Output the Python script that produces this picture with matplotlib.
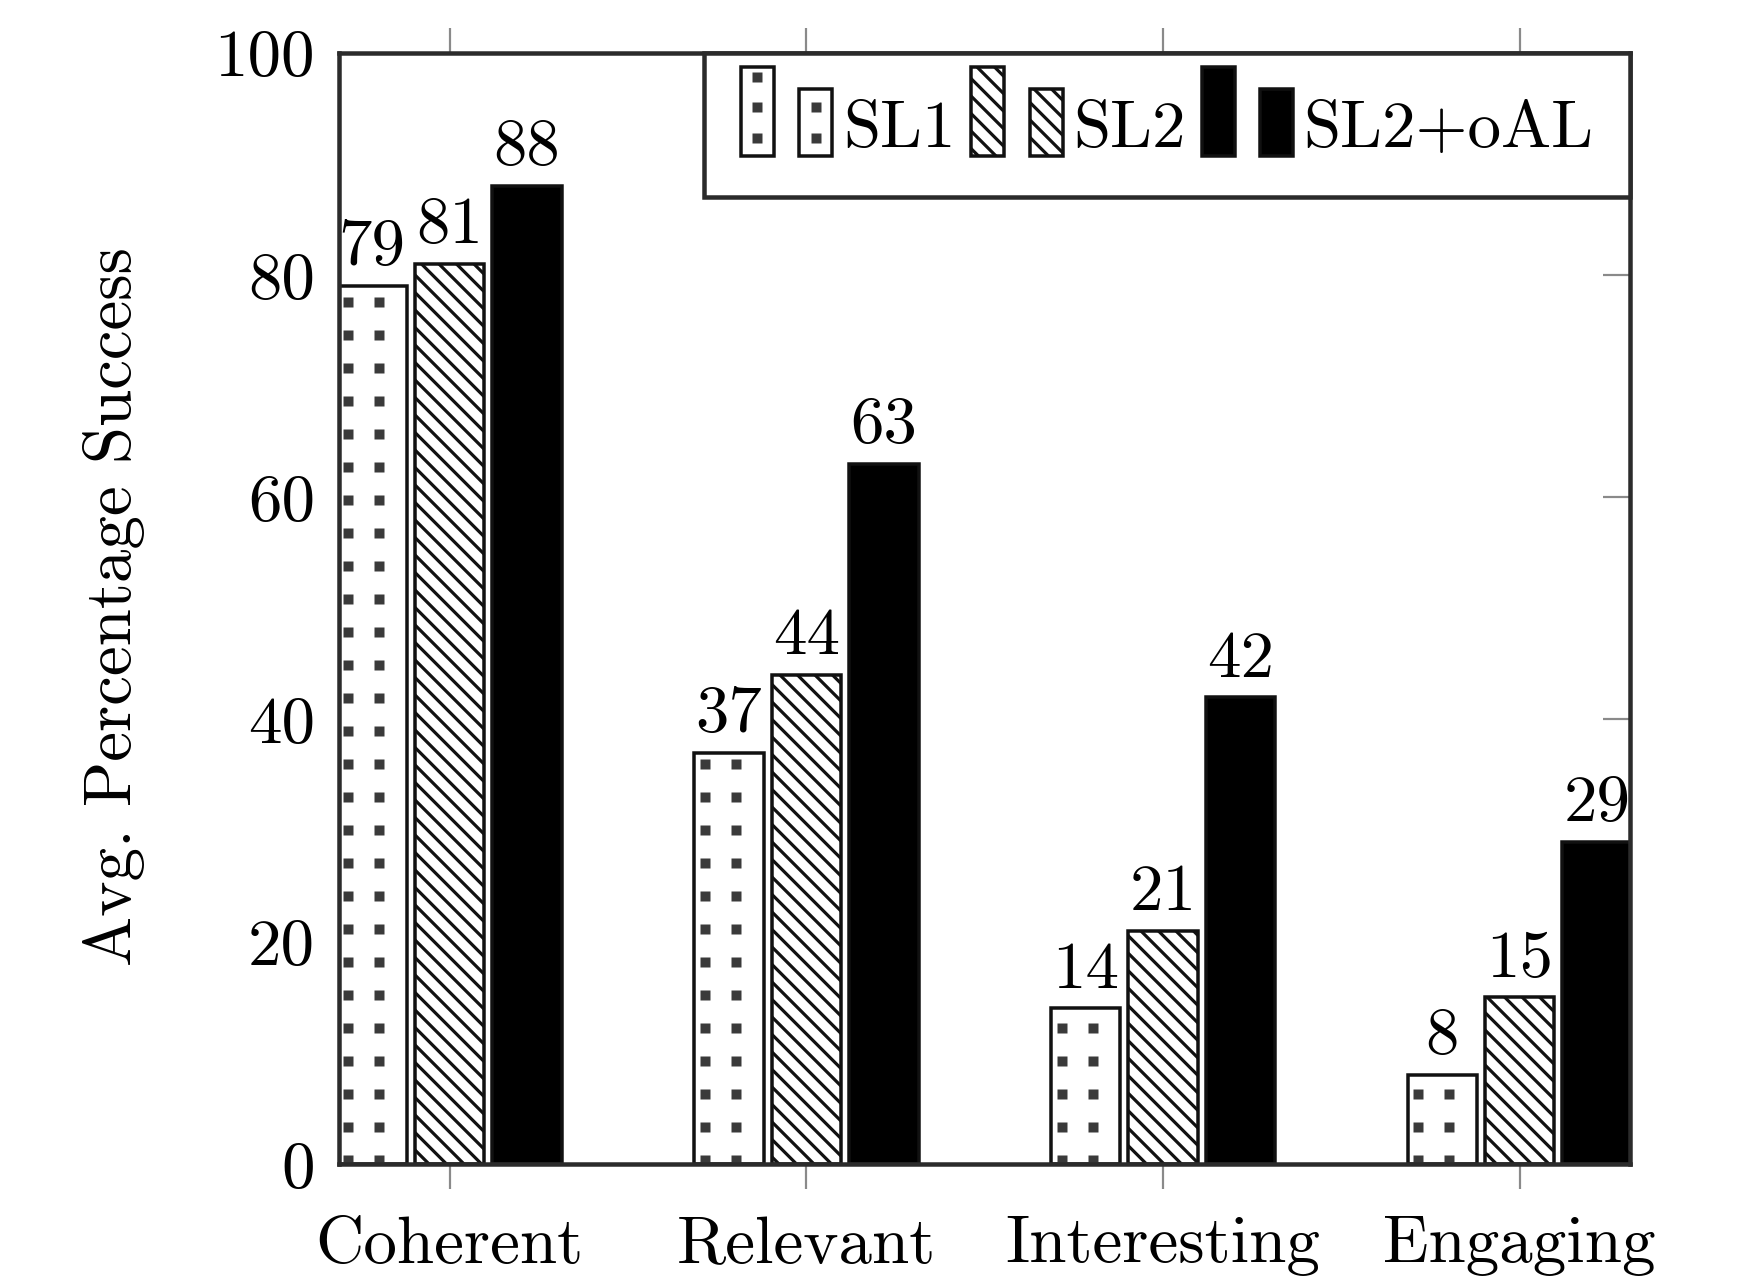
import numpy as np
import matplotlib
matplotlib.use("Agg")
import matplotlib.pyplot as plt
from matplotlib.patches import Rectangle
from matplotlib.lines import Line2D
from matplotlib.legend_handler import HandlerBase

# ---------------- data ----------------
categories = ["Coherent", "Relevant", "Interesting", "Engaging"]
series_names = ["SL1", "SL2", "SL2+oAL"]
sl1 = [79, 37, 14, 8]
sl2 = [81, 44, 21, 15]
sl2_oal = [88, 63, 42, 29]
y_ticks = [0, 20, 40, 60, 80, 100]
y_tick_labels = ["0", "20", "40", "60", "80", "100"]
y_label = "Avg. Percentage Success"

# ---------------- style ----------------
DPI = 210


def px(v):
    """pixels -> points at the output dpi"""
    return v * 72.0 / DPI


FS = px(67)
EDGE = "#111111"
DOT = "#3a3a3a"

plt.rcParams.update({
    "font.family": ["cmr10", "DejaVu Serif"],
    "mathtext.fontset": "cm",
    "axes.formatter.use_mathtext": True,
    "hatch.linewidth": px(3.2),
    "hatch.color": EDGE,
})

fig = plt.figure(figsize=(1745.3 / DPI, 1279.3 / DPI), dpi=DPI)
ax = fig.add_axes([339 / 1745, (1279 - 1164) / 1279, (1630 - 339) / 1745, (1164 - 53) / 1279])

x = np.arange(len(categories))
off = 0.217
bw = 0.195
series = [sl1, sl2, sl2_oal]
styles = [dict(facecolor="white"),
          dict(facecolor="white", hatch="\\\\\\\\"),
          dict(facecolor="black")]

containers = []
for i, (vals, st) in enumerate(zip(series, styles)):
    c = ax.bar(x + (i - 1) * off, vals, bw, edgecolor=EDGE, linewidth=px(3.5),
               label=series_names[i], zorder=2, **st)
    containers.append(c)
    ax.bar_label(c, labels=[str(v) for v in vals], padding=px(8), fontsize=FS,
                 color="black")

# dotted texture for SL1 bars (derived from bar geometry)
px_per_unit_x = 356.8
dot_dx = [-24 / px_per_unit_x, 7 / px_per_unit_x]
for rect in containers[0].patches:
    cx = rect.get_x() + rect.get_width() / 2
    h = rect.get_height()
    ys = np.arange(0.33, h - 0.9, 2.97)
    for dx in dot_dx:
        ln, = ax.plot(np.full_like(ys, cx + dx), ys, ls="none", marker="s",
                      ms=px(10.5), mfc=DOT, mec="none", zorder=2.05)
        ln.set_clip_path(rect)

ax.set_xlim(-0.31, 3.31)
ax.set_ylim(0, 100)
ax.set_xticks(x)
ax.set_xticklabels(categories, fontsize=FS)
ax.set_yticks(y_ticks)
ax.set_yticklabels(y_tick_labels, fontsize=FS)
ax.tick_params(axis="x", direction="out", top=True, bottom=True, labeltop=False,
               length=px(25), width=px(2.2), color="#8a8a8a", pad=px(27))
ax.tick_params(axis="y", direction="in", left=False, right=True,
               length=px(27), width=px(2.2), color="#8a8a8a", pad=px(24))
ax.set_axisbelow(True)
for s in ax.spines.values():
    s.set_linewidth(px(4.5))
    s.set_color("#2b2b2b")
    s.set_zorder(3)

ax.set_ylabel(y_label, fontsize=FS)
ax.yaxis.set_label_coords(-0.150, 0.502)


# ---------------- legend (pgfplots-like double-bar images) ----------------
class PairBarHandler(HandlerBase):
    def __init__(self, dots=False):
        super().__init__()
        self.dots = dots

    def create_artists(self, legend, orig, xdescent, ydescent, width, height,
                       fontsize, trans):
        bwid = 0.36 * width
        y0 = -0.13 * fontsize
        tall = 1.33 * fontsize
        arts = []
        for x0, hgt in ((-xdescent, tall), (-xdescent + width - bwid, tall * 0.75)):
            r = Rectangle((x0, y0), bwid, hgt, facecolor=orig.get_facecolor(),
                          edgecolor=orig.get_edgecolor(),
                          linewidth=orig.get_linewidth(), hatch=orig.get_hatch(),
                          transform=trans)
            arts.append(r)
            if self.dots:
                yy = [y0 + f * tall for f in (0.2, 0.55, 0.88)
                      if f * tall < hgt - 0.12 * fontsize]
                ln = Line2D([x0 + bwid / 2] * len(yy), yy, ls="none", marker="s",
                            ms=px(10.5), mfc=DOT, mec="none", transform=trans)
                arts.append(ln)
        return arts


handles = [c.patches[0] for c in containers]
hmap = {handles[0]: PairBarHandler(dots=True),
        handles[1]: PairBarHandler(),
        handles[2]: PairBarHandler()}
leg = ax.legend(handles, series_names, handler_map=hmap, ncol=3,
                loc="upper right", bbox_to_anchor=(1, 1), borderaxespad=0,
                fontsize=FS, handlelength=1.36, handleheight=1.25,
                handletextpad=0.16, columnspacing=0.24, borderpad=0.545,
                fancybox=False, framealpha=1, edgecolor="#2b2b2b")
leg.get_frame().set_linewidth(px(4.5))
leg.set_zorder(5)

fig.savefig("out.png", dpi=DPI, facecolor="white")
